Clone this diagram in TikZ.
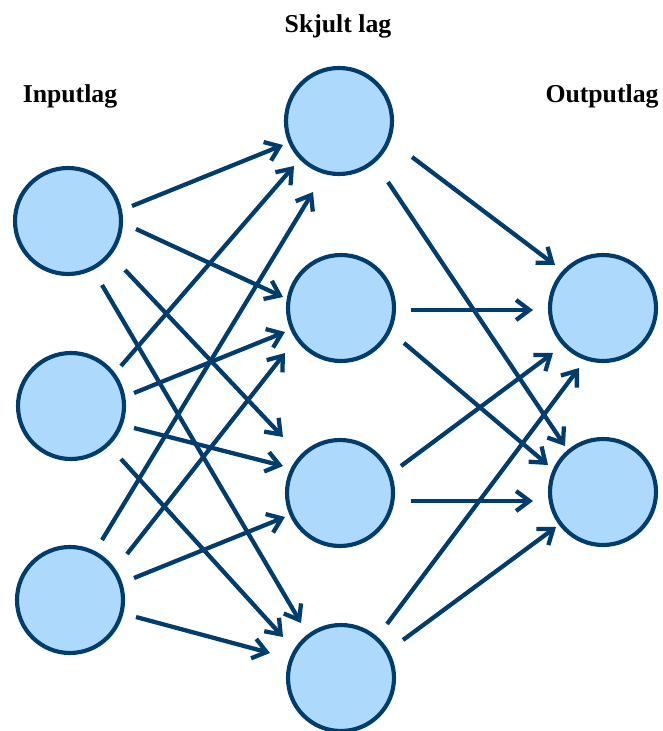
\documentclass[tikz,border=0pt]{standalone}
\usepackage{fontspec}
\setmainfont{Liberation Serif}
\usetikzlibrary{arrows.meta,calc}
\definecolor{nodeedge}{RGB}{0,60,108}
\definecolor{nodefill}{RGB}{173,218,252}
% a connector between two neurons, each end given as an offset from the neuron centre
\newcommand\synapse[6]{\draw[conn] ($(#1)+(#2,#3)$) -- ($(#4)+(#5,#6)$);}
\begin{document}
\begin{tikzpicture}[x=0.75pt,y=-0.75pt,
  neuron/.style={circle, draw=nodeedge, fill=nodefill, line width=3.1pt,
    minimum size=79.5pt, inner sep=0pt},
  conn/.style={draw=nodeedge, line width=3.2pt,
    -{Straight Barb[length=10pt,width=15pt]}},
  layerlabel/.style={font=\bfseries\fontsize{19.3}{23}\selectfont,
    anchor=base, inner sep=0pt}]
\useasboundingbox (0,0) rectangle (662,731);

% layer titles
\node[layerlabel] (tin)  at (70,103)  {Inputlag};
\node[layerlabel] (thid) at (338,33)  {Skjult lag};
\node[layerlabel] (tout) at (602,103) {Outputlag};

% input layer
\node[neuron] (I1) at (68,221) {};
\node[neuron] (I2) at (71,406) {};
\node[neuron] (I3) at (70,600) {};
% hidden layer
\node[neuron] (H1) at (339,121) {};
\node[neuron] (H2) at (341,308) {};
\node[neuron] (H3) at (340,493) {};
\node[neuron] (H4) at (341,678) {};
% output layer
\node[neuron] (O1) at (603,308) {};
\node[neuron] (O2) at (603,492) {};

% input -> hidden
\synapse{I1}{64}{-15}{H1}{-56}{24}
\synapse{I1}{68}{8}{H2}{-58}{-11}
\synapse{I1}{57}{49}{H3}{-57}{-56}
\synapse{I1}{34}{64}{H4}{-40}{-55}

\synapse{I2}{50}{-40}{H1}{-45}{45}
\synapse{I2}{63}{-13}{H2}{-56}{24}
\synapse{I2}{63}{22}{H3}{-57}{-27}
\synapse{I2}{50}{53}{H4}{-58}{-41}

\synapse{I3}{32}{-60}{H1}{-26}{71}
\synapse{I3}{57}{-46}{H2}{-56}{45}
\synapse{I3}{64}{-22}{H3}{-55}{24}
\synapse{I3}{66}{17}{H4}{-71}{-25}

% hidden -> output
\synapse{H1}{73}{36}{O1}{-48}{-43}
\synapse{H1}{49}{61}{O2}{-38}{-46}
\synapse{H2}{70}{2}{O1}{-70}{2}
\synapse{H2}{63}{35}{O2}{-55}{-27}
\synapse{H3}{61}{-27}{O1}{-50}{45}
\synapse{H3}{71}{8}{O2}{-70}{9}
\synapse{H4}{46}{-54}{O1}{-24}{60}
\synapse{H4}{62}{-38}{O2}{-47}{35}
\end{tikzpicture}
\end{document}
